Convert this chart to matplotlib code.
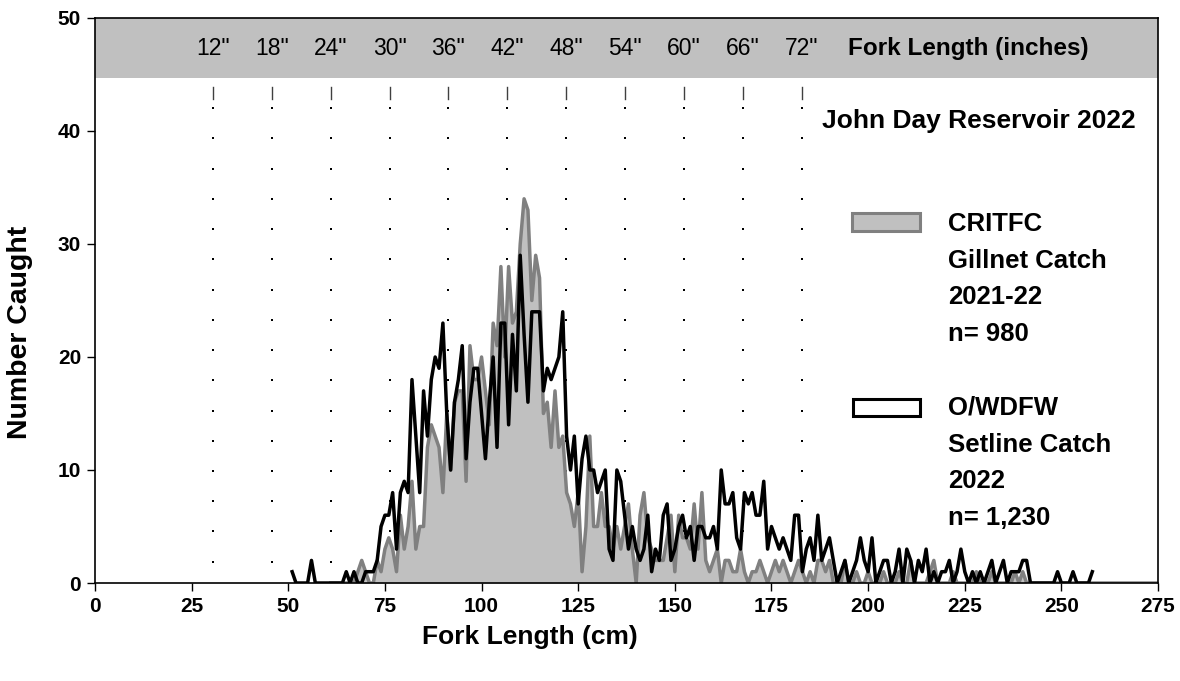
import numpy as np
import matplotlib.pyplot as plt
from matplotlib.patches import Rectangle

plt.rcParams['font.family'] = ['Liberation Sans', 'DejaVu Sans']

# O/WDFW setline catch 2022, counts per 1 cm fork length, starting at 51 cm
setline_start = 51
setline_counts = [
    1, 0, 0, 0, 0, 2, 0, 0, 0, 0,
    0, 0, 0, 0, 1, 0, 1, 0, 0, 1,
    1, 1, 2, 5, 6, 6, 8, 3, 8, 9,
    8, 18, 13, 8, 17, 13, 18, 20, 19, 23,
    15, 10, 16, 18, 21, 11, 16, 19, 19, 15,
    11, 16, 20, 12, 23, 23, 14, 22, 17, 29,
    22, 16, 24, 24, 24, 17, 19, 18, 19, 20,
    24, 13, 10, 13, 7, 11, 13, 10, 10, 8,
    9, 10, 3, 2, 10, 9, 6, 3, 5, 3,
    2, 3, 6, 1, 3, 2, 6, 7, 2, 3,
    5, 6, 4, 5, 2, 5, 5, 4, 4, 5,
    3, 10, 7, 7, 8, 4, 3, 8, 7, 8,
    6, 6, 9, 3, 5, 4, 3, 4, 3, 2,
    6, 6, 1, 3, 4, 2, 6, 2, 3, 4,
    2, 0, 1, 2, 0, 1, 2, 4, 2, 1,
    4, 0, 1, 2, 2, 0, 1, 3, 0, 3,
    2, 0, 2, 1, 3, 0, 1, 0, 1, 1,
    2, 0, 1, 3, 1, 0, 1, 0, 1, 0,
    1, 2, 0, 1, 2, 0, 1, 1, 1, 2,
    2, 0, 0, 0, 0, 0, 0, 0, 1, 0,
    0, 0, 1, 0, 0, 0, 0, 1,
]

# CRITFC gillnet catch 2021-22, counts per 1 cm, starting at 61 cm
gillnet_start = 61
gillnet_counts = [
    0, 0, 0, 0, 0, 0, 0, 1, 2, 1,
    0, 0, 2, 1, 3, 4, 3, 1, 6, 3,
    5, 9, 3, 5, 5, 12, 14, 13, 12, 8,
    15, 10, 16, 17, 17, 9, 21, 18, 18, 20,
    17, 14, 23, 21, 28, 20, 28, 23, 24, 30,
    34, 33, 25, 29, 27, 15, 16, 12, 17, 12,
    13, 8, 7, 5, 8, 1, 5, 13, 5, 5,
    8, 5, 5, 3, 5, 3, 5, 7, 3, 0,
    6, 8, 4, 3, 2, 2, 2, 4, 6, 1,
    6, 4, 4, 3, 7, 3, 8, 2, 1, 2,
    3, 0, 2, 2, 1, 1, 3, 1, 0, 1,
    1, 2, 1, 0, 1, 2, 1, 2, 1, 0,
    1, 2, 1, 0, 1, 0, 2, 2, 1, 2,
    0, 0, 0, 2, 0, 0, 1, 0, 0, 1,
    0, 0, 0, 1, 0, 0, 0, 1, 0, 0,
    2, 0, 0, 0, 0, 1, 2, 0, 0, 0,
    0, 1, 0, 0, 0, 0, 0, 1, 0, 0,
    0, 1, 0, 0, 0, 0, 0, 1, 0, 1,
] + [0] * 35

inch_marks = [12, 18, 24, 30, 36, 42, 48, 54, 60, 66, 72]
x_ticks = list(range(0, 276, 25))
y_ticks = list(range(0, 51, 10))

setline_x = np.arange(setline_start, setline_start + len(setline_counts))
gillnet_x = np.arange(gillnet_start, gillnet_start + len(gillnet_counts))

fig = plt.figure(figsize=(11.8, 6.81), dpi=100)
ax = fig.add_axes([0.0805, 0.1439, 0.9009, 0.8297])
ax.set_xlim(0, 275)
ax.set_ylim(0, 50)

# inch scale band along the top
ax.axhspan(44.7, 50, color='#c0c0c0', zorder=0, lw=0)
dot_y = np.arange(1.89, 42.3, 2.675)
for inch in inch_marks:
    cm = inch * 2.54
    ax.plot([cm] * len(dot_y), dot_y, ls='none', marker='s', ms=1.6,
            color='black', mew=0, zorder=1)
    ax.plot([cm, cm], [42.8, 43.85], color='#404040', lw=1, zorder=1)
    ax.text(cm, 47.3, '%d"' % inch, ha='center', va='center', fontsize=16.5)
ax.text(194.8, 47.3, 'Fork Length (inches)', ha='left', va='center',
        fontsize=17.5, fontweight='bold')

ax.fill_between(gillnet_x, gillnet_counts, color='#c0c0c0', lw=0, zorder=1.5)
ax.plot(gillnet_x, gillnet_counts, color='#808080', lw=2.5, zorder=2)
ax.plot(setline_x, setline_counts, color='black', lw=2.5, zorder=3)

ax.set_xticks(x_ticks)
ax.set_yticks(y_ticks)
ax.tick_params(direction='out', length=6, width=1, labelsize=15, pad=4)
for lab in ax.get_xticklabels() + ax.get_yticklabels():
    lab.set_fontweight('bold')
for sp in ax.spines.values():
    sp.set_linewidth(1.2)

fig.text(530 / 1180, 1 - 637 / 681, 'Fork Length (cm)', ha='center',
         va='center', fontsize=19, fontweight='bold')
fig.text(20 / 1180, 1 - 332 / 681, 'Number Caught', ha='center',
         va='center', rotation=90, fontsize=20.5, fontweight='bold')

ax.text(188, 40.9, 'John Day Reservoir 2022', ha='left', va='center',
        fontsize=19, fontweight='bold')

# legend drawn by hand
ax.add_patch(Rectangle((0.712, 0.623), 0.064, 0.032, transform=ax.transAxes,
                       facecolor='#c0c0c0', edgecolor='#808080', lw=2.2, zorder=4))
ax.add_patch(Rectangle((0.713, 0.296), 0.063, 0.030, transform=ax.transAxes,
                       facecolor='white', edgecolor='black', lw=2.2, zorder=4))
ax.text(0.8025, 0.657, 'CRITFC\nGillnet Catch\n2021-22\nn= 980',
        transform=ax.transAxes, ha='left', va='top', fontsize=18.5,
        fontweight='bold', linespacing=1.67)
ax.text(0.8025, 0.331, 'O/WDFW\nSetline Catch\n2022\nn= 1,230',
        transform=ax.transAxes, ha='left', va='top', fontsize=18.5,
        fontweight='bold', linespacing=1.67)

fig.savefig('out.png', dpi=100)
